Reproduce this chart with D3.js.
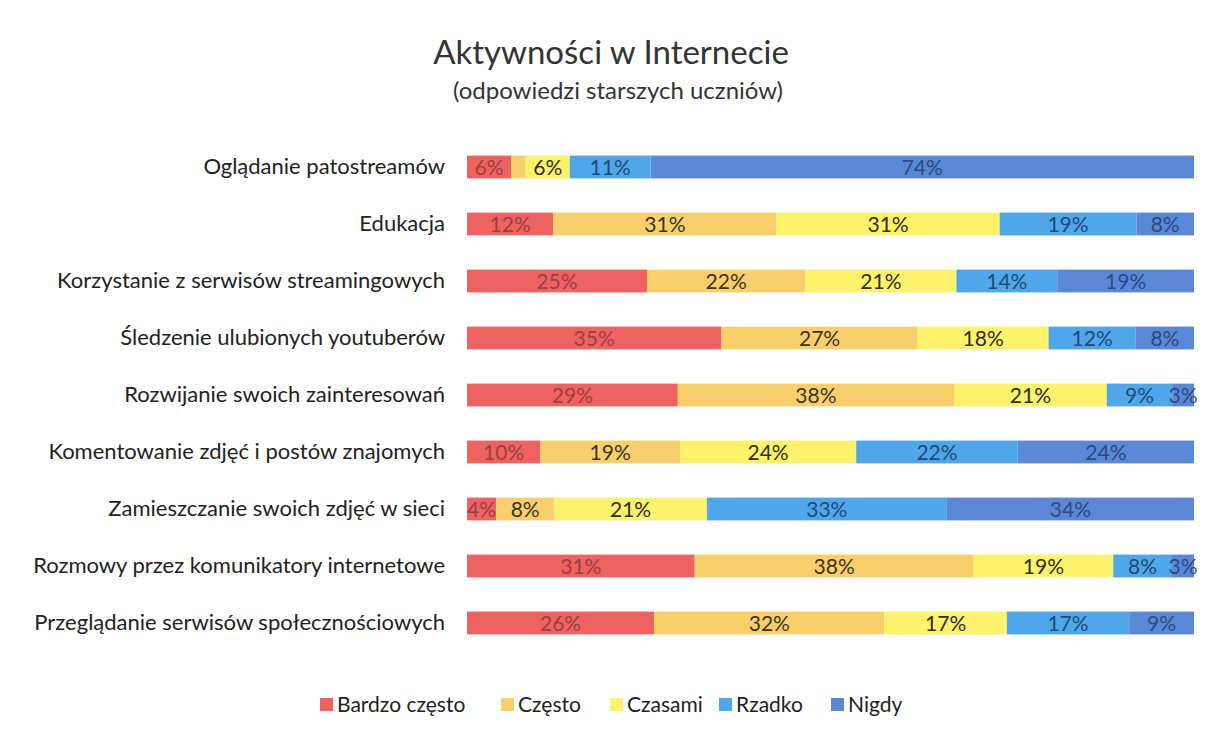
<!DOCTYPE html>
<html>
<head>
<meta charset="utf-8">
<script src="https://cdn.jsdelivr.net/npm/d3@7"></script>
<style>
  body { margin: 0; background: #fff; }
  text { font-family: Lato, "Open Sans", sans-serif; }
</style>
</head>
<body>
<script>
// chart size
var w = 1208, h = 738;

// categories (top to bottom)
var categories = [
    "Oglądanie patostreamów",
    "Edukacja",
    "Korzystanie z serwisów streamingowych",
    "Śledzenie ulubionych youtuberów",
    "Rozwijanie swoich zainteresowań",
    "Komentowanie zdjęć i postów znajomych",
    "Zamieszczanie swoich zdjęć w sieci",
    "Rozmowy przez komunikatory internetowe",
    "Przeglądanie serwisów społecznościowych"
];

var seriesNames = ["Bardzo często", "Często", "Czasami", "Rzadko", "Nigdy"];

// percentages, one array per answer
var bardzoCzesto = [6, 12, 25, 35, 29, 10, 4, 31, 26];
var czesto       = [2, 31, 22, 27, 38, 19, 8, 38, 32];
var czasami      = [6, 31, 21, 18, 21, 24, 21, 19, 17];
var rzadko       = [11, 19, 14, 12, 9, 22, 33, 8, 17];
var nigdy        = [74, 8, 19, 8, 3, 24, 34, 3, 9];

var seriesValues = [bardzoCzesto, czesto, czasami, rzadko, nigdy];
var colors = ["#ef6262", "#f9cf6c", "#fcf26b", "#4fa6e8", "#5b88d6"];
var labelColors = ["#9a4040", "#3b3424", "#2f2f22", "#1f4a78", "#2c4a82"];

// rows for the stack
var rows = categories.map(function(c, i){
    var r = { cat: c };
    seriesNames.forEach(function(s, j){ r[s] = seriesValues[j][i]; });
    return r;
});

var stack = d3.stack()
    .keys(seriesNames)
    .offset(d3.stackOffsetExpand);
var layers = stack(rows);

var svg = d3.select("body")
    .append("svg")
    .attr("width", w)
    .attr("height", h);

// scales
var x = d3.scaleLinear()
    .domain([0, 1])
    .range([467, 1194]);

var y = d3.scaleBand()
    .domain(categories)
    .range([138.5, 651.5])
    .paddingInner(0.6)
    .paddingOuter(0.3);

// title
svg.append("text")
    .attr("x", 611)
    .attr("y", 64)
    .attr("text-anchor", "middle")
    .style("font-size", "33px")
    .style("fill", "#333")
    .text("Aktywności w Internecie");

svg.append("text")
    .attr("x", 618)
    .attr("y", 99)
    .attr("text-anchor", "middle")
    .style("font-size", "24px")
    .style("fill", "#333")
    .text("(odpowiedzi starszych uczniów)");

// category axis
var yAxis = d3.axisLeft(y).tickSize(0).tickPadding(22);
var axis = svg.append("g")
    .attr("class", "axis")
    .attr("transform", "translate(" + x(0) + ",0)")
    .call(yAxis);
axis.select(".domain").remove();
axis.selectAll("text")
    .style("font-family", "Lato, sans-serif")
    .style("font-size", "22px")
    .style("fill", "#222");

// bars
var groups = svg.selectAll(".layer")
    .data(layers)
    .enter()
    .append("g")
    .attr("class", "layer")
    .style("fill", function(d, i){ return colors[i]; });

groups.selectAll("rect")
    .data(function(d){ return d; })
    .enter()
    .append("rect")
    .attr("x", function(d){ return x(d[0]); })
    .attr("width", function(d){ return x(d[1]) - x(d[0]); })
    .attr("y", function(d){ return y(d.data.cat); })
    .attr("height", y.bandwidth());

// data labels
groups.selectAll(".lbl")
    .data(function(d, i){
        return d.map(function(p){ return { p: p, key: d.key, idx: i }; });
    })
    .enter()
    .filter(function(d){ return d.p.data[d.key] >= 3; })
    .append("text")
    .attr("class", "lbl")
    .attr("x", function(d){ return (x(d.p[0]) + x(d.p[1])) / 2; })
    .attr("y", function(d){ return y(d.p.data.cat) + y.bandwidth() / 2 + 1; })
    .attr("dy", "0.35em")
    .attr("text-anchor", "middle")
    .style("font-size", "21px")
    .style("fill", function(d){ return labelColors[d.idx]; })
    .text(function(d){ return d.p.data[d.key] + "%"; });

// legend
var legendX = [320, 501, 610, 719, 831];
var legend = svg.selectAll(".legend")
    .data(seriesNames)
    .enter()
    .append("g")
    .attr("class", "legend")
    .attr("transform", function(d, i){ return "translate(" + legendX[i] + ",705)"; });

legend.append("rect")
    .attr("x", 0)
    .attr("y", -7)
    .attr("width", 13)
    .attr("height", 13)
    .style("fill", function(d, i){ return colors[i]; });

legend.append("text")
    .attr("x", 17)
    .attr("y", 0)
    .attr("dy", "0.35em")
    .style("font-size", "21px")
    .style("fill", "#222")
    .text(function(d){ return d; });
</script>
</body>
</html>
